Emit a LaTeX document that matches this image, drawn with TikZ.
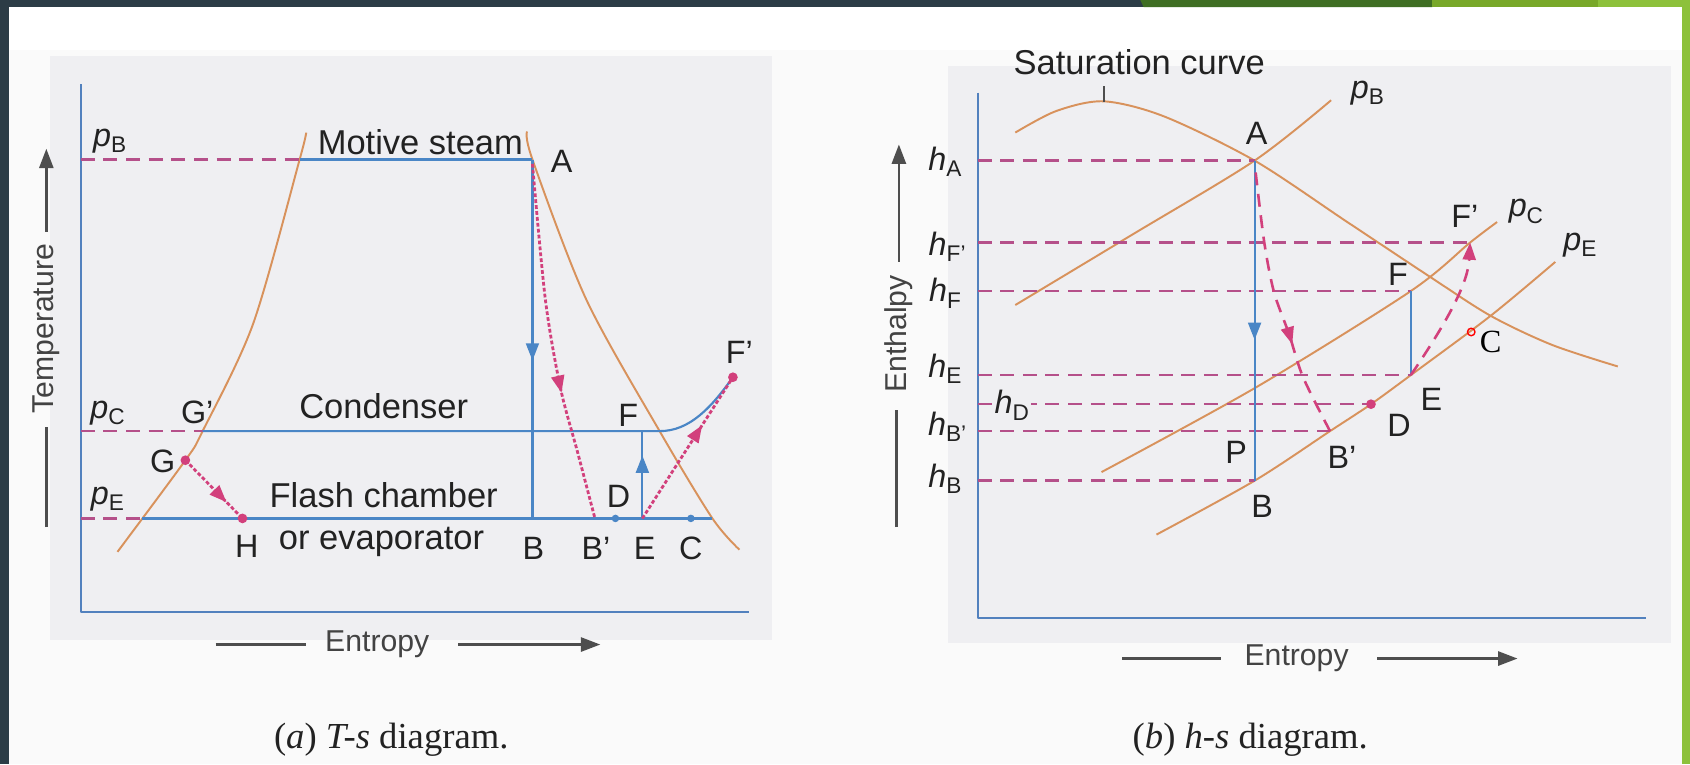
\documentclass[tikz,border=0pt]{standalone}
\usepackage{fontspec}
\setmainfont{Liberation Sans}
\newfontfamily\capfont{Liberation Serif}
\usetikzlibrary{arrows.meta,decorations.markings}
\definecolor{slate}{HTML}{2C3C46}
\definecolor{dkgreen}{HTML}{3F6E23}
\definecolor{mdgreen}{HTML}{78A829}
\definecolor{ltgreen}{HTML}{8DC13B}
\definecolor{panel}{HTML}{EFEFF2}
\definecolor{axisblue}{HTML}{5281BE}
\definecolor{procblue}{HTML}{4A86C6}
\definecolor{sat}{HTML}{D8925C}
\definecolor{dashpink}{HTML}{B5508A}
\definecolor{procpink}{HTML}{D2407C}
\definecolor{ink}{HTML}{222222}
\newcommand{\pres}[1]{\textit{p}\textsubscript{#1}}
\newcommand{\enth}[1]{\textit{h}\textsubscript{#1}}
\tikzset{
  every picture/.style={line join=round, >=Stealth},
  axis/.style={axisblue, line width=2pt},
  satline/.style={sat, line width=1.8pt},
  proc/.style={procblue, line width=2pt},
  level/.style={dashpink, line width=2.4pt, dash pattern=on 13pt off 8pt},
  flash/.style={procpink, line width=2.6pt, dash pattern=on 3.5pt off 2pt},
  hsflash/.style={procpink, line width=2.4pt, dash pattern=on 12pt off 8pt},
  midarrow/.style={postaction={decorate}, decoration={markings,
      mark=at position #1 with {\arrow{Triangle[length=16pt,width=12pt]}}}},
  dot/.style={circle, fill=#1, inner sep=0pt, minimum size=9pt},
  lbl/.style={text=ink, font=\fontsize{30}{32}\selectfont, inner sep=0pt},
  word/.style={text=ink, font=\fontsize{32}{34}\selectfont, inner sep=0pt},
  axlabel/.style={text=ink!85, font=\fontsize{28}{30}\selectfont, inner sep=0pt},
  axarrow/.style={ink!80, line width=2.4pt, -{Triangle[length=18pt,width=13pt]}},
  axtail/.style={ink!80, line width=2.4pt},
  caption/.style={text=ink, font=\capfont\fontsize{34}{36}\selectfont, inner sep=0pt},
}
\begin{document}
\begin{tikzpicture}[x=1pt,y=-1pt]
\useasboundingbox (0,0) rectangle (1568,709);
% slide frame and panels
\fill[white] (0,0) rectangle (1568,709);
\fill[black!2] (8,46) rectangle (1561,709);
\fill[slate] (0,0) rectangle (8,709);
\fill[slate] (0,0) rectangle (1062,6.5);
\fill[dkgreen] (1058,0) -- (1329,0) -- (1329,6.5) -- (1061,6.5) -- cycle;
\fill[mdgreen] (1329,0) rectangle (1483,6.5);
\fill[ltgreen] (1483,0) rectangle (1568,6.5);
\fill[ltgreen] (1561,0) rectangle (1568,709);
\fill[panel] (46,52) rectangle (716,594);
\fill[panel] (880,61) rectangle (1550,597);

% (a) T-s diagram
\coordinate (A) at (494,148); \coordinate (B) at (494,481); \coordinate (Bp) at (552,481);
\coordinate (D) at (571,481); \coordinate (E) at (596,481); \coordinate (Ep) at (596,400);
\coordinate (C) at (641,481); \coordinate (F) at (612,400); \coordinate (Fp) at (680,350);
\coordinate (G) at (172,427); \coordinate (Gp) at (188,400); \coordinate (H) at (225,481);
\coordinate (Lb) at (278,148); \coordinate (Le) at (132,481); \coordinate (Re) at (661,481);
\draw[axis] (75,78) -- (75,568) -- (695,568);
\draw[satline] plot[smooth] coordinates {(109,512) (G) (Gp) (235,300) (Lb) (284,123)};
\draw[satline] plot[smooth] coordinates {(489,122) (A) (544,278) (F) (Re) (686,510)};
\draw[level] (75,148) -- (Lb);
\draw[level] (75,400) -- (Gp);
\draw[level] (75,481) -- (Le);
\draw[proc] (Lb) -- (A);
\draw[proc] (Gp) -- (F) .. controls (640,400) and (660,378) .. (Fp);
\draw[proc] (Le) -- (Re);
\draw[proc,midarrow=0.56] (A) -- (B);
\draw[proc,midarrow=0.72] (E) -- (Ep);
\draw[flash,midarrow=0.64] plot[smooth] coordinates {(494,152) (506,278) (520,360) (536,420) (Bp)};
\draw[flash,midarrow=0.72] (G) -- (H);
\draw[flash,midarrow=0.66] (E) -- (Fp);
\node[dot=procpink] (dG) at (G) {};
\node[dot=procpink] (dH) at (H) {};
\node[dot=procpink] (dFp) at (Fp) {};
\node[dot=procblue,minimum size=7pt] (dD) at (D) {};
\node[dot=procblue,minimum size=7pt] (dC) at (C) {};
\node[lbl] (lpB) at (102,131) {\pres{B}};
\node[lbl] (lpC) at (100,383) {\pres{C}};
\node[lbl] (lpE) at (100,463) {\pres{E}};
\node[word] (motive) at (390,132) {Motive steam};
\node[word] (cond) at (356,377) {Condenser};
\node[word] (flash1) at (356,459) {Flash chamber};
\node[word] (flash2) at (354,503) {or evaporator};
\node[lbl] (lA) at (521,150) {A};
\node[lbl] (lGp) at (183,383) {G\textquoteright};
\node[lbl] (lG) at (151,428) {G};
\node[lbl] (lH) at (229,507) {H};
\node[lbl] (lB) at (495,509) {B};
\node[lbl] (lBp) at (553,509) {B\textquoteright};
\node[lbl] (lE) at (598,509) {E};
\node[lbl] (lC) at (641,509) {C};
\node[lbl] (lD) at (574,461) {D};
\node[lbl] (lF) at (583,385) {F};
\node[lbl] (lFp) at (686,327) {F\textquoteright};
\node[axlabel,rotate=90] (temp) at (43,305) {Temperature};
\coordinate (tA) at (43,215); \coordinate (tB) at (43,138);
\coordinate (tC) at (43,489); \coordinate (tD) at (43,396);
\draw[axarrow] (tA) -- (tB);
\draw[axtail] (tC) -- (tD);
\node[axlabel] (entA) at (350,598) {Entropy};
\coordinate (eA) at (200,598); \coordinate (eB) at (284,598);
\coordinate (eC) at (425,598); \coordinate (eD) at (557,598);
\draw[axtail] (eA) -- (eB);
\draw[axarrow] (eC) -- (eD);
\node[caption] (capA) at (363,686) {(\textit{a}) \textit{T-s} diagram.};

% (b) h-s diagram
\coordinate (hsA) at (1164,149); \coordinate (hsB) at (1164,446); \coordinate (hsBp) at (1234,400);
\coordinate (hsD) at (1272,375); \coordinate (hsE) at (1309,348); \coordinate (hsF) at (1309,270);
\coordinate (hsFp) at (1364,225); \coordinate (hsC) at (1383,293);
\draw[axis] (907,86) -- (907,573) -- (1527,573);
\draw[satline] plot[smooth] coordinates {(942,123) (980,103) (1024,94) (1080,108) (hsA) (1250,206) (1327,257) (hsC) (1440,320) (1501,340)};
\draw[satline] plot[smooth] coordinates {(942,283) (1050,218) (hsA) (1235,93)};
\draw[satline] plot[smooth] coordinates {(1022,438) (1166,359) (hsF) (hsFp) (1389,206)};
\draw[satline] plot[smooth] coordinates {(1073,496) (hsB) (hsBp) (hsD) (hsE) (hsC) (1443,243)};
\draw[ink!80, line width=2pt] (1024,80) -- (1024,95);
\draw[level] (907,149) -- (hsA);
\draw[level] (907,225) -- (hsFp);
\draw[level] (907,270) -- (hsF);
\draw[level] (907,348) -- (hsE);
\draw[level] (907,375) -- (hsD);
\draw[level] (907,400) -- (hsBp);
\draw[level] (907,446) -- (hsB);
\draw[proc,midarrow=0.56] (hsA) -- (hsB);
\draw[proc] (hsF) -- (hsE);
\draw[hsflash,midarrow=0.65] plot[smooth] coordinates {(1165,160) (1173,225) (1182,271) (1196,310) (1209,350) (hsBp)};
\draw[hsflash,-{Triangle[length=16pt,width=12pt]}] (hsE) .. controls (1345,295) and (1362,262) .. (hsFp);
\node[dot=procpink] (dhsD) at (hsD) {};
\draw[red, line width=1.3pt] (1365,308) circle (3.5pt);
\node[text=black, font=\capfont\fontsize{30}{32}\selectfont, inner sep=0pt] (lhsC) at (1383,317) {C};
\node[word] (satlbl) at (1057,58) {Saturation curve};
\node[lbl] (lhpB) at (1269,86) {\pres{B}};
\node[lbl] (lhpC) at (1416,196) {\pres{C}};
\node[lbl] (lhpE) at (1466,227) {\pres{E}};
\node[lbl] (lhsA) at (1166,124) {A};
\node[lbl] (lhsFp) at (1359,201) {F\textquoteright};
\node[lbl] (lhsF) at (1297,255) {F};
\node[lbl] (lhsE) at (1328,371) {E};
\node[lbl] (lhsD) at (1298,395) {D};
\node[lbl] (lhsBp) at (1245,424) {B\textquoteright};
\node[lbl] (lhsP) at (1147,420) {P};
\node[lbl] (lhsB) at (1171,470) {B};
\node[lbl] (hA) at (877,150) {\enth{A}};
\node[lbl] (hFp) at (879,229) {\enth{F\textquoteright}};
\node[lbl] (hF) at (877,272) {\enth{F}};
\node[lbl] (hE) at (877,342) {\enth{E}};
\node[lbl,fill=panel,inner sep=1pt] (hD) at (939,376) {\enth{D}};
\node[lbl] (hBp) at (879,396) {\enth{B\textquoteright}};
\node[lbl] (hB) at (877,444) {\enth{B}};
\node[axlabel,rotate=90] (enthlbl) at (834,310) {Enthalpy};
\coordinate (yA) at (834,243); \coordinate (yB) at (834,134);
\coordinate (yC) at (832,489); \coordinate (yD) at (832,380);
\draw[axarrow] (yA) -- (yB);
\draw[axtail] (yC) -- (yD);
\node[axlabel] (entB) at (1203,611) {Entropy};
\coordinate (fA) at (1041,611); \coordinate (fB) at (1133,611);
\coordinate (fC) at (1278,611); \coordinate (fD) at (1408,611);
\draw[axtail] (fA) -- (fB);
\draw[axarrow] (fC) -- (fD);
\node[caption] (capB) at (1160,686) {(\textit{b}) \textit{h-s} diagram.};
\end{tikzpicture}
\end{document}
